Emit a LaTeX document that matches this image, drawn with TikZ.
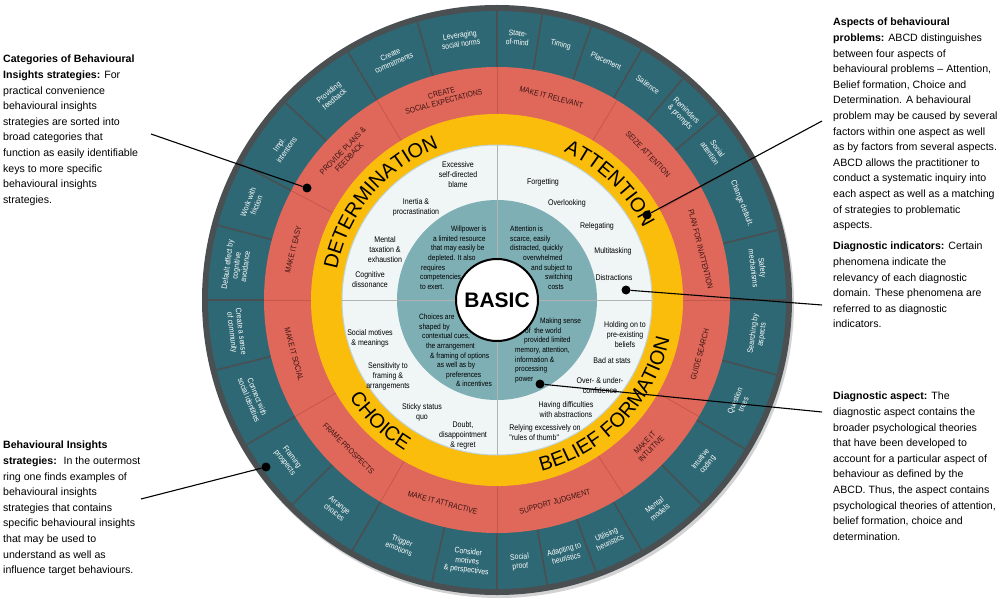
\documentclass[tikz,border=0pt]{standalone}
\usepackage{fontspec}
\setmainfont{Liberation Sans}
\newfontfamily\narrowf[FakeStretch=0.86]{Liberation Sans}
\usetikzlibrary{decorations.text,shadows}
\definecolor{teal1}{HTML}{2D6874}
\definecolor{rim}{HTML}{4A4F52}
\definecolor{red1}{HTML}{E0685A}
\definecolor{red2}{HTML}{C5584B}
\definecolor{yel}{HTML}{FBBD0C}
\definecolor{light}{HTML}{EFF6F5}
\definecolor{dteal}{HTML}{7EAFB4}
\definecolor{redtxt}{HTML}{3A1414}
\newcommand\olab[3]{\pgfmathsetmacro\rot{ifthenelse(sin(#2)>=0,#2-90,#2+90)}\node[olab,rotate=\rot] (#1) at (#2:263) {#3};}
\newcommand\rlab[3]{\pgfmathsetmacro\rot{ifthenelse(sin(#2)>=0,#2-90,#2+90)}\node[rlab,rotate=\rot] (#1) at (#2:210) {#3};}
\newcommand\ind[1]{\hspace*{#1pt}}
\tikzset{
 olab/.style={text=white,font=\narrowf\fontsize{8}{9}\selectfont,align=center,inner sep=0},
 rlab/.style={text=redtxt,font=\narrowf\fontsize{8}{9}\selectfont,align=center,inner sep=0},
 itxt/.style={font=\narrowf\fontsize{8.2}{10}\selectfont,align=center,inner sep=0},
 dtxt/.style={font=\narrowf\fontsize{7.7}{9.6}\selectfont,align=left,inner sep=0,anchor=north west},
 ann/.style={font=\fontsize{10.6}{15.6}\selectfont,align=left,anchor=north west,inner sep=0},
 dot/.style={circle,fill=black,minimum size=9pt,inner sep=0},
 lead/.style={line width=1.1pt},
 ytxt/.style={decorate,decoration={text along path,text align=center,text={|\fontsize{20}{20}\selectfont|#1}}},
}
\begin{document}
\begin{tikzpicture}[x=1pt,y=1pt]
\useasboundingbox (0,0) rectangle (1000,606);
\begin{scope}[shift={(497,306)}]
\fill[rim,drop shadow={shadow xshift=2pt,shadow yshift=-3pt,opacity=.35}] (0,0) circle (295);
\fill[teal1] (0,0) circle (289);
\foreach \a in {0,14,29,40,50,60,71,81,90,106,121,137,152,165,180,194,210,225,240,257,270,280,290,300,315,329,345}
  \draw[rim,line width=1.6pt] (\a:232) -- (\a:290);
\fill[red1] (0,0) circle (233);
\foreach \a in {0,29,59,90,121,152,180,210,240,270,303,330}
  \draw[red2,line width=0.8pt] (\a:186) -- (\a:233);
\fill[yel] (0,0) circle (186);
\fill[light] (0,0) circle (155);
\draw[white!70!teal1,line width=1pt] (0,0) circle (155);
\fill[dteal] (0,0) circle (100);
\foreach \a in {0,90,180,270}
  \draw[gray!60,line width=0.6pt] (\a:40) -- (\a:155);
\node[circle,draw=black,line width=2pt,fill=white,minimum size=82pt,inner sep=0,font=\fontsize{21}{21}\selectfont\bfseries] (basic) at (0,0) {BASIC};
\olab{o1}{98}{Leveraging\\social norms}
\olab{o2}{113.5}{Create\\commitments}
\olab{o3}{129}{Providing\\feedback}
\olab{o4}{144.5}{Impl.\\intentions}
\olab{o5}{158.5}{Work with\\friction}
\olab{o6}{172.5}{Default effect by\\cognitive\\avoidance}
\olab{o7}{85.5}{State-\\of-mind}
\olab{o8}{76}{Timing}
\olab{o9}{65.5}{Placement}
\olab{o10}{55}{Salience}
\olab{o11}{45}{Reminders\\\& prompts}
\olab{o12}{34.5}{Social\\attention}
\olab{o13}{21.5}{Change default.}
\olab{o14}{7}{Safety\\mechanisms}
\olab{o15}{352.5}{Searching by\\aspects}
\olab{o16}{337}{Question\\trees}
\olab{o17}{322}{Intuitive\\coding}
\olab{o18}{307.5}{Mental\\models}
\olab{o19}{295}{Utilising\\heuristics}
\olab{o20}{285}{Adapting to\\heuristics}
\olab{o21}{275}{Social\\proof}
\olab{o22}{263.5}{Consider\\motives\\\& perspectives}
\olab{o23}{248.5}{Trigger\\emotions}
\olab{o24}{232.5}{Arrange\\choices}
\olab{o25}{217.5}{Framing\\prospects}
\olab{o26}{202}{Connect with\\social identities}
\olab{o27}{187}{Create a sense\\of community}
\rlab{r1}{166}{MAKE IT EASY}
\rlab{r2}{136}{PROVIDE PLANS \&\\FEEDBACK}
\rlab{r3}{105}{CREATE\\SOCIAL EXPECTATIONS}
\rlab{r4}{75}{MAKE IT RELEVANT}
\rlab{r5}{44}{SEIZE ATTENTION}
\rlab{r6}{14}{PLAN FOR INATTENTION}
\rlab{r7}{345}{GUIDE SEARCH}
\rlab{r8}{316}{MAKE IT\\INTUITIVE}
\rlab{r9}{286}{SUPPORT JUDGMENT}
\rlab{r10}{255}{MAKE IT ATTRACTIVE}
\rlab{r11}{225}{FRAME PROSPECTS}
\rlab{r12}{195}{MAKE IT SOCIAL}
\path[ytxt=DETERMINATION] (178:163) arc[start angle=178,end angle=102,radius=163];
\path[ytxt=ATTENTION] (84:163) arc[start angle=84,end angle=8,radius=163];
\path[ytxt=BELIEF FORMATION] (268:177) arc[start angle=268,end angle=364,radius=177];
\path[ytxt=CHOICE] (196:177) arc[start angle=196,end angle=256,radius=177];
\end{scope}
\node[itxt] (t1) at (458,606-175) {Excessive\\self-directed\\blame};
\node[itxt] (t2) at (416,606-207) {Inertia \&\\procrastination};
\node[itxt] (t3) at (385,606-250) {Mental\\taxation \&\\exhaustion};
\node[itxt] (t4) at (370,606-280) {Cognitive\\dissonance};
\node[dtxt] (d1) at (420,606-226) {\ind{31}Willpower is\\\ind{13}a limited resource\\\ind{11}that may easily be\\\ind{8}depleted. It also\\\ind{1}requires\\competencies\\to exert.};
\node[itxt] (t5) at (543,606-182) {Forgetting};
\node[itxt] (t6) at (567,606-203) {Overlooking};
\node[itxt] (t7) at (597,606-226) {Relegating};
\node[itxt] (t8) at (613,606-251) {Multitasking};
\node[itxt] (t9) at (614,606-278) {Distractions};
\node[dtxt] (d2) at (510,606-226) {Attention is\\scarce, easily\\distracted, quickly\\\ind{13}overwhelmed\\\ind{21}and subject to\\\ind{35}switching\\\ind{38}costs};
\node[itxt] (t10) at (370,606-338) {Social motives\\\& meanings};
\node[itxt] (t11) at (388,606-376) {Sensitivity to\\framing \&\\arrangements};
\node[itxt] (t12) at (422,606-412) {Sticky status\\quo};
\node[itxt] (t13) at (463,606-435) {Doubt,\\disappointment\\\& regret};
\node[dtxt] (d3) at (419,606-314) {Choices are\\shaped by\\\ind{3}contextual cues,\\\ind{7}the arrangement\\\ind{11}\& framing of options\\\ind{18}as well as by\\\ind{27}preferences\\\ind{37}\& incentives};
\node[itxt] (t14) at (625,606-335) {Holding on to\\pre-existing\\beliefs};
\node[itxt] (t15) at (612,606-361) {Bad at stats};
\node[itxt] (t16) at (600,606-386) {Over- \& under-\\confidence};
\node[itxt] (t17) at (566,606-410) {Having difficulties\\with abstractions};
\node[itxt,align=left] (t18) at (545,606-433) {Relying excessively on\\"rules of thumb"};
\node[dtxt] (d4) at (515,606-318) {\ind{25}Making sense\\\ind{10}of \ the world\\\ind{9}provided limited\\memory, attention,\\information \&\\processing\\power};
\node[ann] (a1) at (3,606-55) {\textbf{Categories of Behavioural}\\\textbf{Insights strategies:} For\\practical convenience\\behavioural insights\\strategies are sorted into\\broad categories that\\function as easily identifiable\\keys to more specific\\behavioural insights\\strategies.};
\node[ann] (a2) at (3,606-441) {\textbf{Behavioural Insights}\\\textbf{strategies:} \ In the outermost\\ring one finds examples of\\behavioural insights\\strategies that contains\\specific behavioural insights\\that may be used to\\understand as well as\\influence target behaviours.};
\node[ann] (a3) at (833,606-18) {\textbf{Aspects of behavioural}\\\textbf{problems:} ABCD distinguishes\\between four aspects of\\behavioural problems -- Attention,\\Belief formation, Choice and\\Determination. A behavioural\\problem may be caused by several\\factors within one aspect as well\\as by factors from several aspects.\\ABCD allows the practitioner to\\conduct a systematic inquiry into\\each aspect as well as a matching\\of strategies to problematic\\aspects.};
\node[ann] (a4) at (833,606-242) {\textbf{Diagnostic indicators:} Certain\\phenomena indicate the\\relevancy of each diagnostic\\domain. These phenomena are\\referred to as diagnostic\\indicators.};
\node[ann] (a5) at (833,606-392) {\textbf{Diagnostic aspect:} The\\diagnostic aspect contains the\\broader psychological theories\\that have been developed to\\account for a particular aspect of\\behaviour as defined by the\\ABCD. Thus, the aspect contains\\psychological theories of attention,\\belief formation, choice and\\determination.};
\node[dot] (p1) at (307,606-188) {};
\node[dot] (p2) at (266,606-467) {};
\node[dot] (p3) at (647,606-215) {};
\node[dot] (p4) at (626,606-290) {};
\node[dot] (p5) at (540,606-384) {};
\coordinate (c1) at (151,606-134);
\coordinate (c2) at (141,606-499);
\coordinate (c3) at (822,606-121);
\coordinate (c4) at (822,606-305);
\coordinate (c5) at (822,606-412);
\draw[lead] (c1) -- (p1);
\draw[lead] (c2) -- (p2);
\draw[lead] (c3) -- (p3);
\draw[lead] (c4) -- (p4);
\draw[lead] (c5) -- (p5);
\end{tikzpicture}
\end{document}
